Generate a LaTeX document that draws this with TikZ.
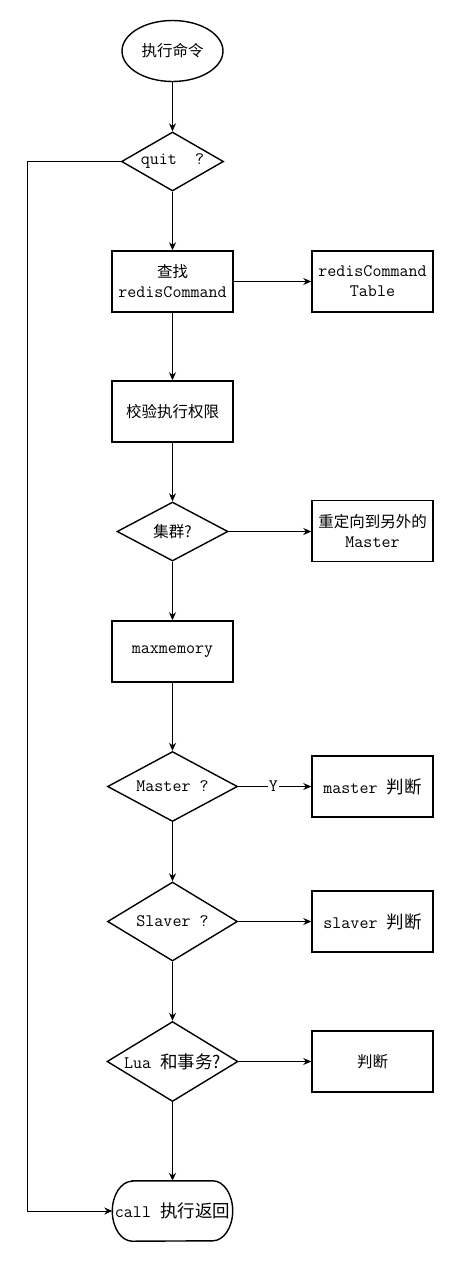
\documentclass[tikz,border=0pt]{standalone}
\usepackage{fontspec}
\newfontfamily\cjk{Noto Sans CJK SC}
\newcommand\mono{\ttfamily\fontsize{17.5}{20}\selectfont}
\usetikzlibrary{shapes.geometric,arrows.meta}
\tikzset{
  box/.style={draw, line width=1.5pt, rectangle, minimum width=121pt, minimum height=61pt, inner sep=0pt, align=center, font=\fontsize{15.5}{20}\selectfont},
  dia/.style={draw, line width=1.4pt, diamond, inner sep=0pt},
  lbl/.style={align=center, font=\fontsize{15.5}{20}\selectfont, inner sep=0pt},
  conn/.style={line width=1pt, -{Stealth[length=8pt,width=7pt]}},
}
\begin{document}
\begin{tikzpicture}[x=1pt,y=-1pt]
\useasboundingbox (0,0) rectangle (454,1262);
\fill[white] (0,0) rectangle (454,1262);

% start
\node[draw, line width=1.4pt, ellipse, minimum width=101pt, minimum height=61pt, inner sep=0pt, font=\fontsize{15.5}{20}\selectfont] (start) at (172.5,51) {\cjk 执行命令};

% quit diamond
\node[dia, minimum width=102pt, minimum height=59pt] (quit) at (172.5,161.5) {};
\node[lbl] at (quit) {\mono quit\ \ ?};

% find
\node[box] (find) at (172.5,281.5) {\cjk 查找\\\mono redisCommand};
\node[box] (table) at (372.5,281.5) {\mono redisCommand\\\mono Table};

% check
\node[box] (check) at (172.5,411.5) {\cjk 校验执行权限};

% cluster
\node[dia, minimum width=111pt, minimum height=59pt] (cluster) at (172.5,531.5) {};
\node[lbl] at (cluster) {\cjk 集群?};
\node[box] (redir) at (372.5,531) {\cjk 重定向到另外的\\\mono Master};

% maxmemory
\node[box] (maxmem) at (172.5,651.5) {\mono maxmemory};

% master
\node[dia, minimum width=130pt, minimum height=70pt] (master) at (172.5,786.5) {};
\node[lbl] at (master) {\mono Master ?};
\node[box] (mjudge) at (372.5,786.5) {\mono master \cjk 判断};

% slaver
\node[dia, minimum width=130pt, minimum height=79pt] (slaver) at (172.5,921.5) {};
\node[lbl] at (slaver) {\mono Slaver ?};
\node[box] (sjudge) at (372.5,921.5) {\mono slaver \cjk 判断};

% lua
\node[dia, minimum width=131pt, minimum height=80pt] (lua) at (172.5,1061.5) {};
\node[lbl] at (lua) {\mono Lua \cjk 和事务?};
\node[box] (ljudge) at (372.5,1061.5) {\cjk 判断};

% call terminator
\node[rectangle, minimum width=120pt, minimum height=60pt, inner sep=0pt, font=\fontsize{15.5}{20}\selectfont] (call) at (172.5,1211) {\mono call \cjk 执行返回};
\draw[line width=1.4pt] ([xshift=20pt]call.north west) -- ([xshift=-20pt]call.north east)
  arc[start angle=90, end angle=-90, x radius=20pt, y radius=30pt]
  -- ([xshift=20pt]call.south west)
  arc[start angle=270, end angle=90, x radius=20pt, y radius=30pt] -- cycle;

% connectors
\draw[conn] (start) -- (quit.north);
\draw[conn] (quit.south) -- (find);
\draw[conn] (find) -- (table);
\draw[conn] (find) -- (check);
\draw[conn] (check) -- (cluster.north);
\draw[conn] (cluster.east) -- (cluster.east -| redir.west);
\draw[conn] (cluster.south) -- (maxmem);
\draw[conn] (maxmem) -- (master.north);
\draw[conn] (master.east) -- node[pos=0.48, fill=white, inner sep=1pt, font=\mono] {Y} (mjudge.west);
\draw[conn] (master.south) -- (slaver.north);
\draw[conn] (slaver.east) -- (sjudge.west);
\draw[conn] (slaver.south) -- (lua.north);
\draw[conn] (lua.east) -- (ljudge.west);
\draw[conn] (lua.south) -- (call.north);
\coordinate (lt) at (27,161.5);
\coordinate (lb) at (27,1211);
\draw[conn] (quit.west) -- (lt) -- (lb) -- (call.west);
\end{tikzpicture}
\end{document}
